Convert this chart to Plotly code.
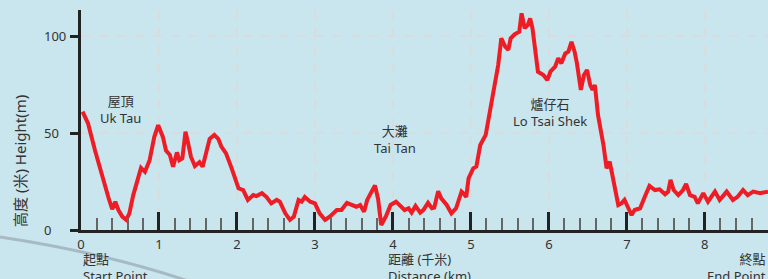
import plotly.graph_objects as go

distance_km = [0.02, 0.09, 0.18, 0.26, 0.35, 0.40, 0.44, 0.48, 0.53, 0.58, 0.62, 0.67, 0.73, 0.77, 0.82, 0.88,
               0.94, 0.99, 1.05, 1.09, 1.14, 1.18, 1.23, 1.26, 1.30, 1.34, 1.37, 1.41, 1.46, 1.52, 1.56, 1.61,
               1.65, 1.71, 1.76, 1.80, 1.86, 1.93, 1.97, 2.02, 2.08, 2.14, 2.21, 2.25, 2.32, 2.38, 2.44, 2.51,
               2.55, 2.62, 2.68, 2.73, 2.79, 2.83, 2.87, 2.94, 3.00, 3.06, 3.13, 3.19, 3.28, 3.34, 3.41, 3.47,
               3.53, 3.58, 3.63, 3.67, 3.73, 3.77, 3.81, 3.85, 3.91, 3.97, 4.04, 4.11, 4.15, 4.20, 4.24, 4.29,
               4.35, 4.39, 4.45, 4.50, 4.53, 4.58, 4.62, 4.69, 4.75, 4.81, 4.86, 4.88, 4.91, 4.94, 4.97, 5.03,
               5.07, 5.12, 5.19, 5.24, 5.31, 5.35, 5.39, 5.44, 5.48, 5.51, 5.56, 5.62, 5.65, 5.69, 5.73, 5.76,
               5.79, 5.82, 5.86, 5.93, 5.98, 6.02, 6.08, 6.12, 6.16, 6.21, 6.25, 6.29, 6.33, 6.36, 6.41, 6.45,
               6.49, 6.53, 6.56, 6.59, 6.63, 6.70, 6.74, 6.78, 6.85, 6.89, 6.93, 6.97, 7.02, 7.06, 7.10, 7.17,
               7.23, 7.29, 7.36, 7.42, 7.49, 7.53, 7.56, 7.60, 7.66, 7.72, 7.76, 7.81, 7.87, 7.91, 7.98, 8.04,
               8.13, 8.19, 8.28, 8.36, 8.42, 8.49, 8.55, 8.62, 8.71, 8.81]
height_m = [61, 55, 41, 29, 17, 10.7, 14.6, 10.3, 6.9, 5.2, 8.6, 18, 27.5, 32, 30, 36,
            48, 54, 48, 41, 38.7, 32.6, 40, 36, 37, 50.7, 45.5, 37.8, 33, 35, 32.6, 41,
            47, 49, 47, 43, 39.5, 32, 27.5, 21.5, 20.6, 15.5, 18, 17.5, 19, 17, 13.7, 15.5,
            14.6, 8.6, 5.2, 6.9, 15.5, 14.6, 17, 14.6, 13.7, 8.6, 5.2, 6.9, 10.3, 10.3, 14, 12.9,
            12, 12.9, 9.4, 15.5, 19.8, 23, 16, 2.6, 7, 12.9, 14.6, 12, 10.3, 11.2, 9, 12.4,
            9, 10.3, 14, 11.2, 11.5, 20, 16.3, 12.9, 8.6, 11.2, 16.8, 19.8, 18.6, 17, 26.6, 31.8,
            32.7, 43.8, 49, 61, 74.7, 85, 98.8, 94.5, 92.8, 98.8, 100.9, 102.2, 111.7, 104, 105.7, 109,
            104, 93.6, 81.6, 79.9, 77.3, 81.6, 84.2, 88.5, 85.9, 91, 91.9, 97, 91.9, 85.9, 72.2, 79.9,
            82.5, 74.7, 72.2, 74.7, 59.3, 43.8, 31.8, 35.2, 19.8, 12.9, 13.7, 15.5, 11.2, 7.7, 10.3, 11.2,
            17.1, 22.7, 20.6, 21, 18.4, 19.8, 25.8, 20.6, 18, 20.6, 23.7, 18, 17.1, 13.7, 19, 14.6,
            19.8, 15.5, 19.8, 15.5, 17.1, 20.6, 18, 19.8, 19, 19.8]

x_ticks = [0, 1, 2, 3, 4, 5, 6, 7, 8]
y_ticks = [0, 50, 100]

place_names = ["屋頂<br>Uk Tau", "大灘<br>Tai Tan", "爐仔石<br>Lo Tsai Shek"]
place_x = [0.51, 4.03, 6.01]
place_y = [61.9, 46.9, 60.8]

FONT = "Noto Sans, Noto Sans CJK TC, sans-serif"
TXT = "#333333"
BG = "#c9e5ee"

fig = go.Figure()
fig.add_trace(go.Scatter(
    x=distance_km, y=height_m, mode="lines",
    line=dict(color="#ee1d25", width=4), hoverinfo="skip"))

annotations = []
for t, x, y in zip(place_names, place_x, place_y):
    annotations.append(dict(text=t, x=x, y=y, xref="x", yref="y", showarrow=False,
                            font=dict(size=13, color=TXT, family=FONT), align="center",
                            xanchor="center", yanchor="middle"))
for v in y_ticks:
    annotations.append(dict(text=str(v), x=0, xref="paper", xshift=-39, y=v, yref="y",
                            showarrow=False, xanchor="left", yanchor="middle",
                            font=dict(size=13, color=TXT, family=FONT)))
annotations.append(dict(text="高度 (米) Height(m)", textangle=-90, x=0, xref="paper", xshift=-61,
                        y=35.6, yref="y", showarrow=False, xanchor="center", yanchor="middle",
                        font=dict(size=15, color=TXT, family=FONT)))
annotations.append(dict(text="起點<br>Start Point", x=0, xref="x", y=0, yref="paper", yshift=-18,
                        showarrow=False, xanchor="left", yanchor="top", align="left",
                        font=dict(size=13, color=TXT, family=FONT)))
annotations.append(dict(text="距離 (千米)<br>Distance (km)", x=3.91, xref="x", y=0, yref="paper", yshift=-18,
                        showarrow=False, xanchor="left", yanchor="top", align="left",
                        font=dict(size=13, color=TXT, family=FONT)))
annotations.append(dict(text="終點<br>End Point", x=1, xref="paper", y=0, yref="paper", yshift=-18,
                        showarrow=False, xanchor="right", yanchor="top", align="right",
                        font=dict(size=13, color=TXT, family=FONT)))

fig.update_layout(
    width=768, height=279,
    margin=dict(l=81, r=0, t=10, b=49),
    paper_bgcolor=BG, plot_bgcolor=BG,
    showlegend=False,
    annotations=annotations,
    shapes=[dict(type="path", xref="paper", yref="paper",
                 path="M -0.1179,-0.0318 Q 0.0422,-0.1068 0.1732,-0.25",
                 line=dict(color="#9aa9b1", width=3), opacity=0.7, layer="below")],
    xaxis=dict(range=[0, 8.81], tickvals=x_ticks, ticktext=[str(v) for v in x_ticks],
               ticks="inside", ticklen=18, tickwidth=3, tickcolor="#222222",
               showline=True, linewidth=3, linecolor="#222222",
               showgrid=True, gridcolor="#d9dcdd", griddash="dash", gridwidth=1.5,
               zeroline=False,
               minor=dict(dtick=0.2, tick0=0, ticks="inside", ticklen=12, tickwidth=2,
                          tickcolor="#666666", showgrid=False),
               tickfont=dict(size=13, color=TXT, family=FONT)),
    yaxis=dict(range=[0, 113.4], tickvals=y_ticks, showticklabels=False,
               ticks="outside", ticklen=8, tickwidth=2.5, tickcolor="#222222",
               showline=True, linewidth=3, linecolor="#222222",
               showgrid=True, gridcolor="#d9dcdd", griddash="dash", gridwidth=1.5,
               zeroline=False),
)

fig.write_html("out.html", config={"displayModeBar": False},
               post_script="document.body.style.margin='0';document.body.style.overflow='hidden';"
                           "document.body.style.background='" + BG + "';")
